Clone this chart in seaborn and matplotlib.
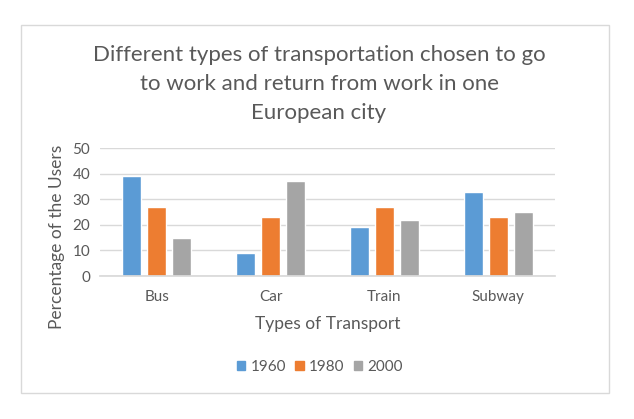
import matplotlib
matplotlib.use("Agg")
import matplotlib.pyplot as plt
import seaborn as sns
import pandas as pd
from matplotlib.patches import Rectangle

categories = ["Bus", "Car", "Train", "Subway"]
years = ["1960", "1980", "2000"]
v1960 = [39, 9, 19, 33]
v1980 = [27, 23, 27, 23]
v2000 = [15, 37, 22, 25]
yticks = [0, 10, 20, 30, 40, 50]

rows = []
for yr, vals in zip(years, [v1960, v1980, v2000]):
    for c, v in zip(categories, vals):
        rows.append({"Transport": c, "Year": yr, "Value": v})
df = pd.DataFrame(rows)

sns.set_theme(style="white")
plt.rcParams['font.family'] = ['Lato', 'DejaVu Sans']
txt = "#595959"
grid = "#D9D9D9"
palette = {"1960": "#5B9BD5", "1980": "#ED7D31", "2000": "#A5A5A5"}

fig = plt.figure(figsize=(6.34, 4.19), dpi=100)
W, H = 634, 419
fig.patches.append(Rectangle((21 / W, 1 - 393 / H), (609 - 21) / W, (393 - 25) / H,
                             transform=fig.transFigure, fill=False, edgecolor=grid, lw=1))

ax = fig.add_axes([100 / W, 1 - 276 / H, 455 / W, 128 / H])
sns.barplot(data=df, x="Transport", y="Value", hue="Year", order=categories,
            hue_order=years, palette=palette, width=0.66, gap=0.24,
            saturation=1, ax=ax, legend=False)
ax.set_ylim(0, 50)
ax.set_yticks(yticks)
ax.set_xlim(-0.5, 3.5)
ax.yaxis.grid(True, color=grid, lw=1)
ax.set_axisbelow(True)
for s in ["top", "right", "left"]:
    ax.spines[s].set_visible(False)
ax.spines["bottom"].set_color(grid)
ax.tick_params(axis="both", length=0, labelsize=11, colors=txt)
ax.tick_params(axis="x", pad=10)
ax.tick_params(axis="y", pad=7)
ax.set_xlabel("Types of Transport", fontsize=12.5, color=txt, labelpad=9)
ax.set_ylabel("Percentage of the Users", fontsize=12.5, color=txt)
ax.yaxis.set_label_coords(-0.077, 0.305)

fig.text(319 / W, 1 - 84 / H,
         "Different types of transportation chosen to go\nto work and return from work in one\nEuropean city",
         ha="center", va="center", fontsize=16, color=txt, linespacing=1.55)

handles = [Rectangle((0, 0), 1, 1, color=palette[y]) for y in years]
fig.legend(handles, years, loc="center", bbox_to_anchor=(320 / W, 1 - 367 / H),
           ncol=3, frameon=False, fontsize=11, labelcolor=txt,
           handlelength=0.55, handleheight=0.55, handletextpad=0.35, columnspacing=0.6)

fig.savefig("out.png", dpi=100)
